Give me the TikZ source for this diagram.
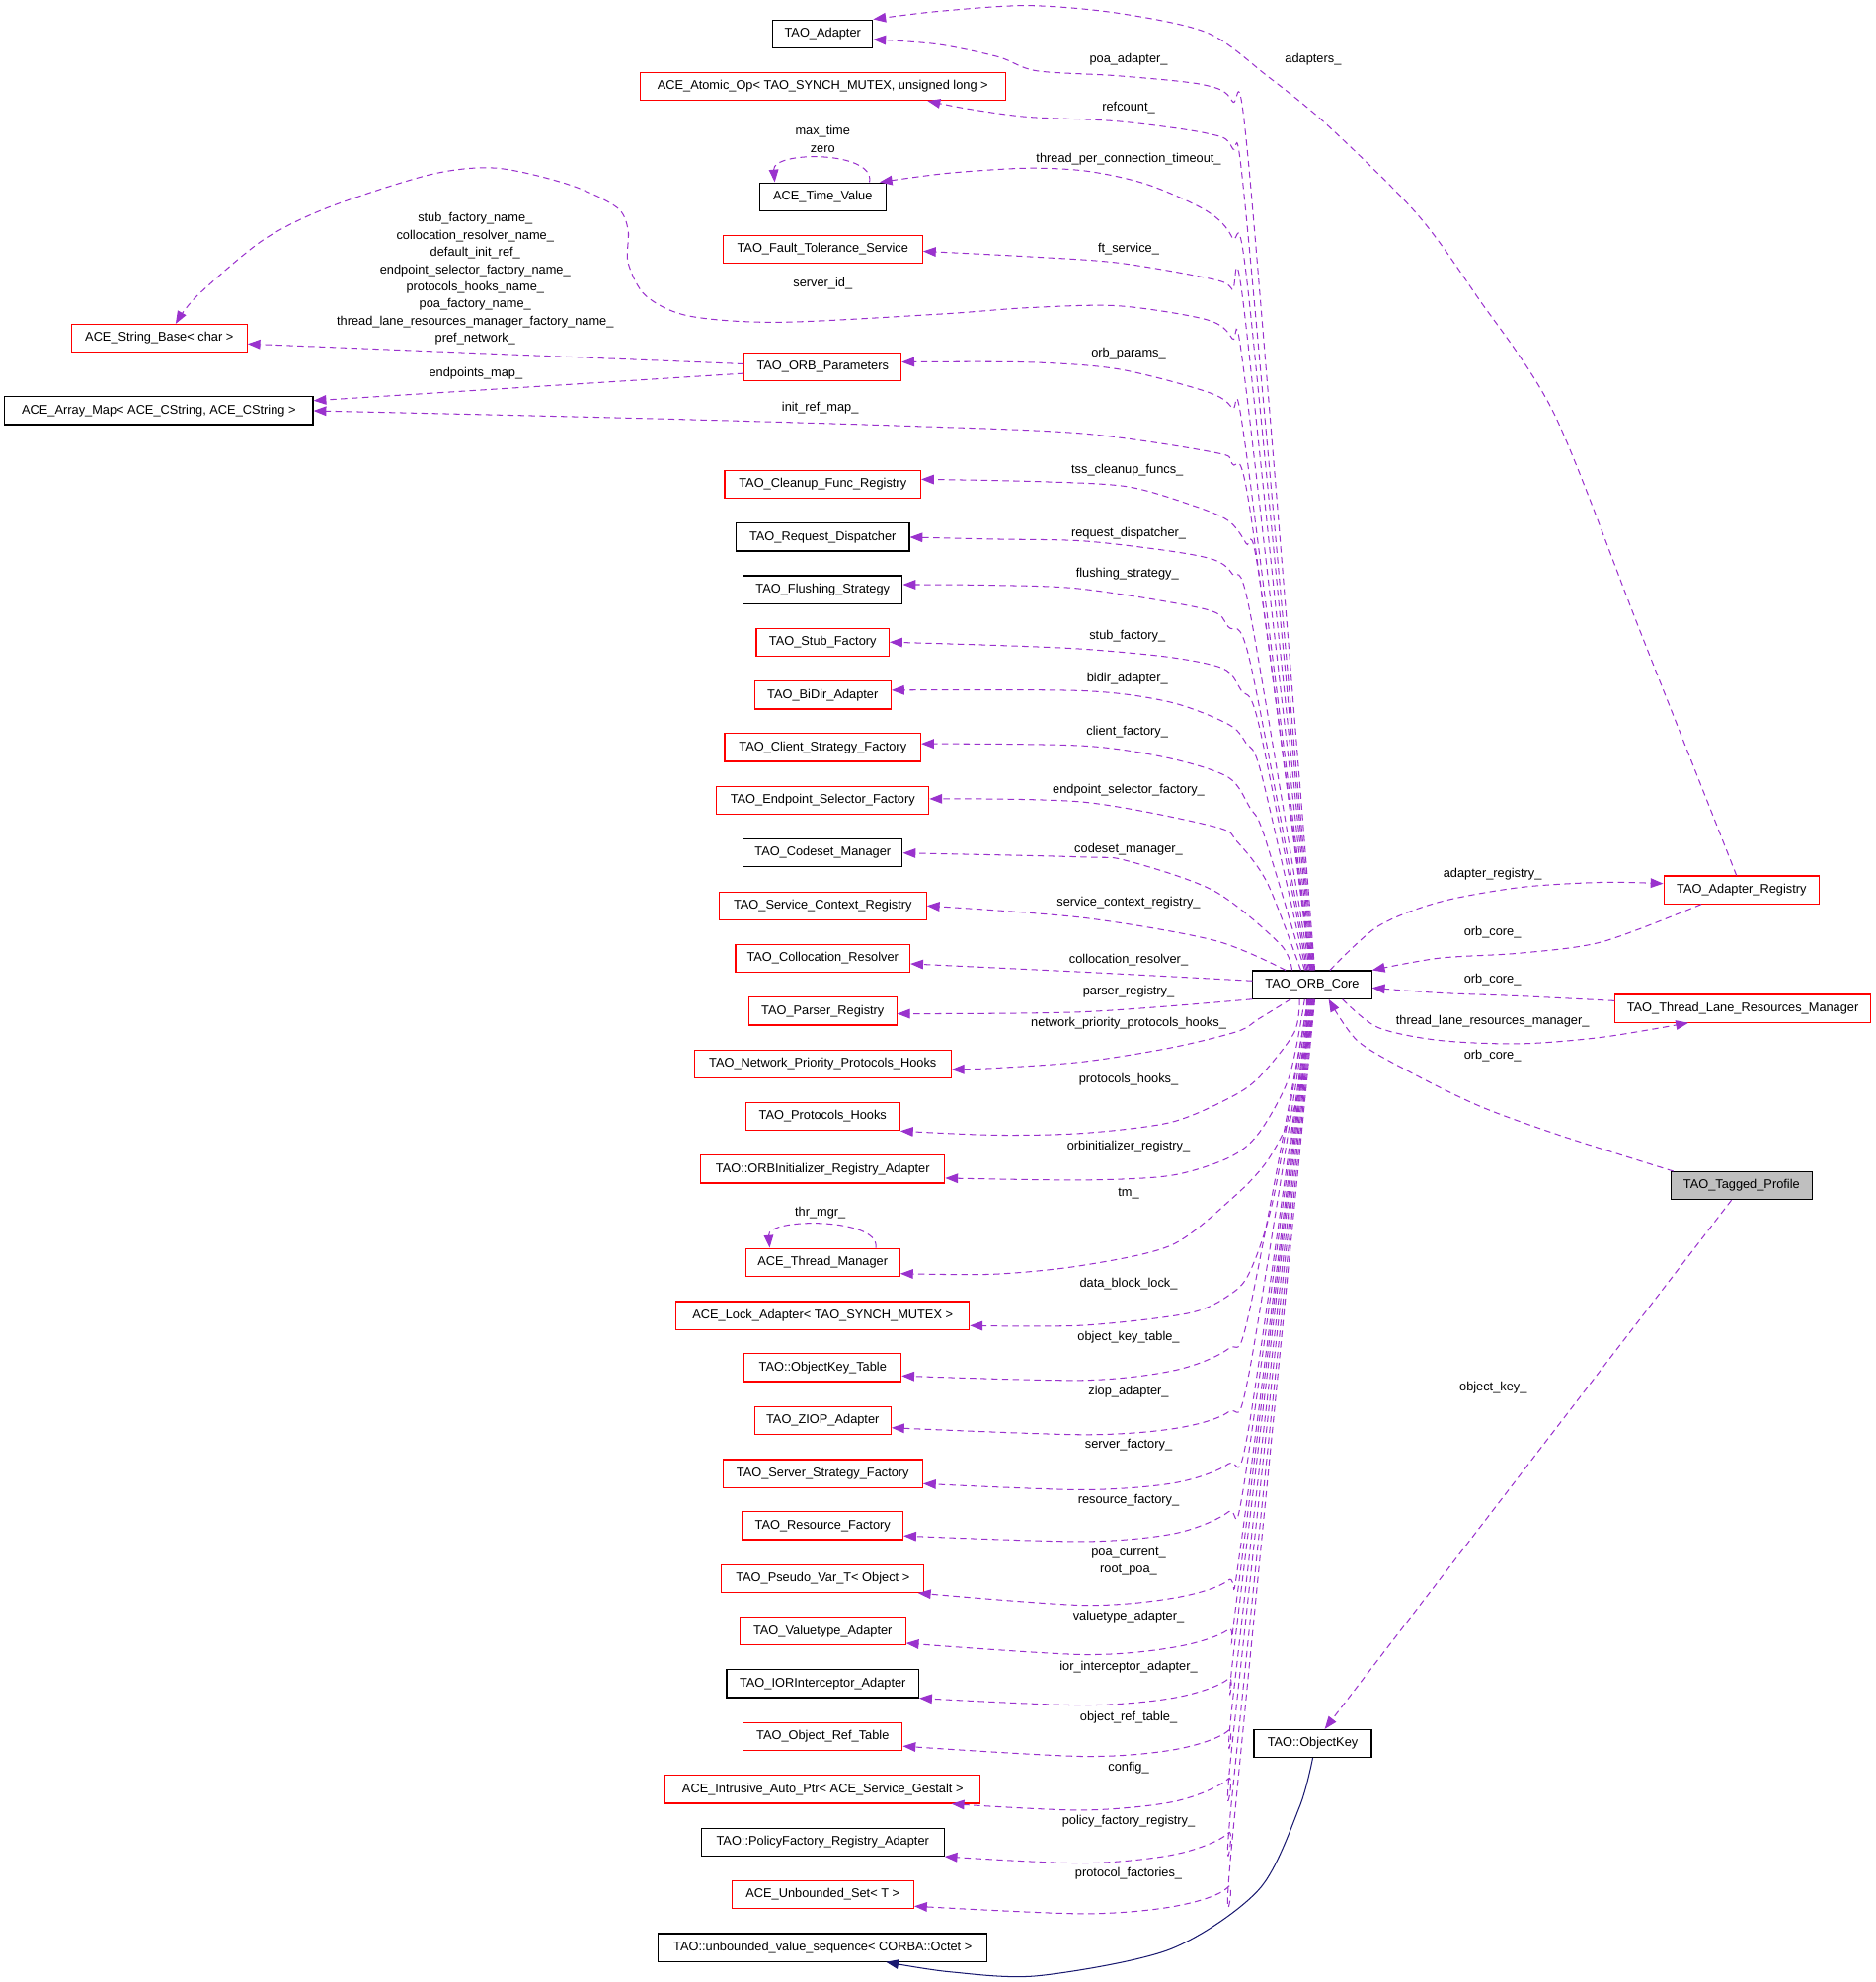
\documentclass[tikz,border=0pt]{standalone}
\usepackage{fontspec}
\setmainfont{Liberation Sans}
\usetikzlibrary{arrows.meta}
\definecolor{memberpurple}{HTML}{9A32CD}
\definecolor{undocred}{HTML}{FF0000}
\definecolor{inheritblue}{HTML}{191970}
\definecolor{focusgrey}{HTML}{BFBFBF}
\tikzset{
  classbox/.style={
    draw=black,
    fill=white,
    line width=0.9pt,
    minimum height=22pt,
    inner xsep=2pt,
    inner ysep=0pt,
    text height=7.5pt,
    text depth=2.5pt,
    font=\fontsize{10}{12}\selectfont
  },
  redbox/.style={classbox, draw=undocred},
  focusbox/.style={classbox, fill=focusgrey},
  member/.style={
    draw=memberpurple,
    line width=0.8pt,
    dash pattern=on 5pt off 3.5pt,
    -{Triangle[length=10pt,width=7.5pt]}
  },
  inherit/.style={
    draw=inheritblue,
    line width=0.8pt,
    -{Triangle[length=10pt,width=7.5pt]}
  },
  edgelabel/.style={
    inner sep=0pt,
    text height=7.5pt,
    text depth=2.5pt,
    font=\fontsize{10}{12}\selectfont
  }
}
\begin{document}
\begin{tikzpicture}[x=1pt,y=-1pt]
\fill[white] (0,0) rectangle (1484,1568);
\useasboundingbox (0,0) rectangle (1484,1568);

% member classes, middle column
\node[classbox, minimum width=79pt] (adapter) at (651,26.7) {TAO\_Adapter};
\node[redbox, minimum width=289pt] (atomicop) at (651,68.4) {ACE\_Atomic\_Op< TAO\_SYNCH\_MUTEX, unsigned long >};
\node[classbox, minimum width=100pt] (timeval) at (651,155.6) {ACE\_Time\_Value};
\node[redbox, minimum width=158pt] (ftserv) at (651,197.3) {TAO\_Fault\_Tolerance\_Service};
\node[redbox, minimum width=124pt] (orbparams) at (651,290.4) {TAO\_ORB\_Parameters};
\node[redbox, minimum width=155pt] (cleanup) at (651,383.2) {TAO\_Cleanup\_Func\_Registry};
\node[classbox, minimum width=137pt] (reqdisp) at (651,425) {TAO\_Request\_Dispatcher};
\node[classbox, minimum width=126pt] (flushing) at (651,466.5) {TAO\_Flushing\_Strategy};
\node[redbox, minimum width=105pt] (stubfac) at (651,508) {TAO\_Stub\_Factory};
\node[redbox, minimum width=108pt] (bidir) at (651,550) {TAO\_BiDir\_Adapter};
\node[redbox, minimum width=155pt] (clientfac) at (651,591.4) {TAO\_Client\_Strategy\_Factory};
\node[redbox, minimum width=168pt] (endpointsel) at (651,633) {TAO\_Endpoint\_Selector\_Factory};
\node[classbox, minimum width=126pt] (codeset) at (651,674.8) {TAO\_Codeset\_Manager};
\node[redbox, minimum width=164pt] (svcctx) at (651,716.6) {TAO\_Service\_Context\_Registry};
\node[redbox, minimum width=138pt] (colloc) at (651,758) {TAO\_Collocation\_Resolver};
\node[redbox, minimum width=117pt] (parser) at (651,800) {TAO\_Parser\_Registry};
\node[redbox, minimum width=203pt] (netprio) at (651,841.6) {TAO\_Network\_Priority\_Protocols\_Hooks};
\node[redbox, minimum width=122pt] (prothooks) at (651,883.3) {TAO\_Protocols\_Hooks};
\node[redbox, minimum width=193pt] (orbinit) at (651,925) {TAO::ORBInitializer\_Registry\_Adapter};
\node[redbox, minimum width=122pt] (thrmgr) at (651,998.6) {ACE\_Thread\_Manager};
\node[redbox, minimum width=232pt] (lockad) at (651,1040.7) {ACE\_Lock\_Adapter< TAO\_SYNCH\_MUTEX >};
\node[redbox, minimum width=124pt] (okeytable) at (651,1082) {TAO::ObjectKey\_Table};
\node[redbox, minimum width=108pt] (ziop) at (651,1124) {TAO\_ZIOP\_Adapter};
\node[redbox, minimum width=158pt] (serverfac) at (651,1165.7) {TAO\_Server\_Strategy\_Factory};
\node[redbox, minimum width=127pt] (resfac) at (651,1207) {TAO\_Resource\_Factory};
\node[redbox, minimum width=160pt] (pseudovar) at (651,1248.8) {TAO\_Pseudo\_Var\_T< Object >};
\node[redbox, minimum width=131pt] (valuetype) at (651,1290.5) {TAO\_Valuetype\_Adapter};
\node[classbox, minimum width=152pt] (iorint) at (651,1332) {TAO\_IORInterceptor\_Adapter};
\node[redbox, minimum width=126pt] (objref) at (651,1373.9) {TAO\_Object\_Ref\_Table};
\node[redbox, minimum width=249pt] (intrusive) at (651,1415.6) {ACE\_Intrusive\_Auto\_Ptr< ACE\_Service\_Gestalt >};
\node[classbox, minimum width=192pt] (polfac) at (651,1457.3) {TAO::PolicyFactory\_Registry\_Adapter};
\node[redbox, minimum width=144pt] (unbset) at (651,1499) {ACE\_Unbounded\_Set< T >};
\node[classbox, minimum width=260pt] (octetseq) at (651,1540.7) {TAO::unbounded\_value\_sequence< CORBA::Octet >};

% left and right columns
\node[redbox, minimum width=139pt] (strbase) at (126,267.6) {ACE\_String\_Base< char >};
\node[classbox, minimum width=244pt] (arraymap) at (125.7,325) {ACE\_Array\_Map< ACE\_CString, ACE\_CString >};
\node[classbox, minimum width=94pt] (core) at (1038.3,779) {TAO\_ORB\_Core};
\node[classbox, minimum width=93pt] (objkey) at (1038.7,1379.3) {TAO::ObjectKey};
\node[redbox, minimum width=123pt] (adreg) at (1378,704) {TAO\_Adapter\_Registry};
\node[redbox, minimum width=202pt] (tlrm) at (1379,797.7) {TAO\_Thread\_Lane\_Resources\_Manager};
\node[focusbox, minimum width=112pt] (tagged) at (1378,938) {TAO\_Tagged\_Profile};

% upper members of the ORB core
\draw[member] plot[smooth] coordinates {([xshift=2pt]core.north) (988,130) (975,80) (952,67) (885,60) (820,56) (790,45) (742,35) ([yshift=-4.5pt]adapter.east)};
\draw[member] plot[smooth] coordinates {([xshift=1.5pt]core.north) (986,170) (975,117) (955,105.5) (885,96) (813,92.5) (765,86) ([xshift=83pt]atomicop.south)};
\draw[member] plot[smooth] coordinates {([xshift=1pt]core.north) (988,234) (975,188) (955,167) (908,146) (861,135.5) (813,133) (750,137) ([xshift=45pt]timeval.north)};
\draw[member] plot[smooth] coordinates {([xshift=0.5pt]core.north) (985,250) (975,229) (960,221) (885,208) (813,203) ([yshift=-1.5pt]ftserv.east)};
\draw[member] plot[smooth] coordinates {(core.north) (985,300) (975,268) (955,253) (885,242) (813,243.5) (744,248.5) (616,255) (545,250) (511,234) (497,208) (497,182) (488,164) (450,146) (393,133) (341,138) (260,164) (208,190) (156,234) ([xshift=13pt]strbase.north)};
\draw[member] plot[smooth] coordinates {([xshift=-0.5pt]core.north) (985,350) (975,323) (955,310) (885,292) (813,286.5) ([yshift=4pt]orbparams.east)};
\draw[member] plot[smooth] coordinates {([xshift=-1pt]core.north) (989,403) (975,367) (961,358) (857,343) (717,337) (508,331) (arraymap.east)};
\draw[member] plot[smooth] coordinates {([xshift=-1.5pt]core.north) (996,454) (986,430) (972,412) (944,400) (892,385) (822,381) ([yshift=4pt]cleanup.east)};
\draw[member] plot[smooth] coordinates {([xshift=-2pt]core.north) (989,484) (975,454) (961,443) (926,436) (857,428) (787,426.5) (reqdisp.east)};
\draw[member] plot[smooth] coordinates {([xshift=-3pt]core.north) (989,523) (972,496) (954,482) (857,466) (787,463) ([yshift=4pt]flushing.east)};
\draw[member] plot[smooth] coordinates {([xshift=-4pt]core.north) (996,573) (982,546) (968,529) (926,520) (857,513.5) (787,510.5) (stubfac.east)};
\draw[member] plot[smooth] coordinates {([xshift=-5pt]core.north) (998,612) (986,588) (972,573) (926,555.5) (857,546.5) ([yshift=4pt]bidir.east)};
\draw[member] plot[smooth] coordinates {([xshift=-6pt]core.north) (1000,660) (989,639) (972,615) (926,600) (857,590) ([yshift=3pt]clientfac.east)};
\draw[member] plot[smooth] coordinates {([xshift=-9pt]core.north) (1003,699) (979,666) (961,654) (857,634.5) ([yshift=1pt]endpointsel.east)};
\draw[member] plot[smooth] coordinates {([xshift=-16pt]core.north) (1013,747) (961,705) (892,681) (857,678) (codeset.east)};
\draw[member] plot[smooth] coordinates {([xshift=-21pt]core.north) (961,744) (857,726) (svcctx.east)};
\draw[member] plot[smooth] coordinates {([yshift=3pt]core.west) (857,769) ([yshift=-4.5pt]colloc.east)};
\draw[member] plot[smooth] coordinates {(core.south west) (857,800.5) ([yshift=-2pt]parser.east)};

% lower members of the ORB core
\draw[member] plot[smooth] coordinates {([xshift=-17pt]core.south) (996,806) (979,816) (926,829) (857,840) (787,845) ([yshift=-4.5pt]netprio.east)};
\draw[member] plot[smooth] coordinates {([xshift=-10pt]core.south) (1024,817) (996,852.5) (972,869) (926,888) (857,896.5) (787,898) (prothooks.south east)};
\draw[member] plot[smooth] coordinates {([xshift=-6pt]core.south) (1020,852) (996,896.5) (972,916) (926,930) (857,933.5) ([yshift=-7pt]orbinit.east)};
\draw[member] plot[smooth] coordinates {([xshift=-4.5pt]core.south) (1033,836) (1024,877) (1003,918) (975,948) (927,985) (857,1001) (787,1008) ([yshift=-9pt]thrmgr.east)};
\draw[member] plot[smooth] coordinates {([xshift=-3.5pt]core.south) (1008,946) (989,1006) (972,1025) (940,1039) (857,1048.5) ([yshift=-8pt]lockad.east)};
\draw[member] plot[smooth] coordinates {([xshift=-3pt]core.south) (988,1040) (972,1067) (930,1084) (857,1092) ([yshift=-6.5pt]okeytable.east)};
\draw[member] plot[smooth] coordinates {([xshift=-2.5pt]core.south) (988,1088) (972,1117) (930,1130) (857,1135) ([yshift=-5.5pt]ziop.east)};
\draw[member] plot[smooth] coordinates {([xshift=-2pt]core.south) (988,1130) (972,1158) (930,1173) (857,1178.5) ([yshift=-8pt]serverfac.east)};
\draw[member] plot[smooth] coordinates {([xshift=-1.5pt]core.south) (985,1170) (972,1196) (930,1213) (857,1219.5) ([yshift=-8pt]resfac.east)};
\draw[member] plot[smooth] coordinates {([xshift=-1pt]core.south) (982,1221) (972,1250) (930,1264) (857,1270) ([xshift=-5pt]pseudovar.south east)};
\draw[member] plot[smooth] coordinates {([xshift=-0.5pt]core.south) (979,1262) (972,1289) (930,1303) (857,1309) ([yshift=-9.5pt]valuetype.east)};
\draw[member] plot[smooth] coordinates {(core.south) (977,1300) (972,1328) (930,1343) (857,1349) (iorint.south east)};
\draw[member] plot[smooth] coordinates {([xshift=0.5pt]core.south) (976,1340) (972,1369) (930,1384) (857,1389.5) ([yshift=-7.5pt]objref.east)};
\draw[member] plot[smooth] coordinates {([xshift=1pt]core.south) (975,1380) (972,1407) (930,1425) (857,1432) ([xshift=-23pt]intrusive.south east)};
\draw[member] plot[smooth] coordinates {([xshift=1.5pt]core.south) (975,1420) (972,1450) (930,1467) (857,1474) (polfac.south east)};
\draw[member] plot[smooth] coordinates {([xshift=2pt]core.south) (975,1456) (972,1492.5) (930,1508) (857,1514) ([yshift=-9pt]unbset.east)};

% self references
\draw[member] ([xshift=37pt]timeval.north) .. controls ([xshift=42pt,yshift=25pt]timeval.north) and ([xshift=-40pt,yshift=25pt]timeval.north) .. ([xshift=-38pt]timeval.north);
\draw[member] ([xshift=42pt]thrmgr.north) .. controls ([xshift=46pt,yshift=24pt]thrmgr.north) and ([xshift=-44pt,yshift=24pt]thrmgr.north) .. ([xshift=-42pt]thrmgr.north);

% ORB parameters
\draw[member] ([yshift=2.5pt]orbparams.west) -- ([yshift=-4.5pt]strbase.east);
\draw[member] ([yshift=-5pt]orbparams.west) -- ([yshift=8pt]arraymap.east);

% right side
\draw[member] plot[smooth] coordinates {([xshift=14pt]core.north) (1090,733) (1138.6,713.7) (1203,702) (1268,698) ([yshift=5pt]adreg.west)};
\draw[member] plot[smooth] coordinates {([xshift=-32pt]adreg.south) (1268,745) (1203,754) (1138.6,758) (core.north east)};
\draw[member] plot[smooth] coordinates {([yshift=6pt]tlrm.west) (1203,788) (1138.6,785.5) ([yshift=-2.5pt]core.east)};
\draw[member] plot[smooth] coordinates {([xshift=24pt]core.south) (1090,812.7) (1138.6,823) (1203,825.7) (1268,820.5) ([xshift=-43pt]tlrm.south)};
\draw[member] plot[smooth] coordinates {([xshift=2.5pt]tagged.north west) (1235.5,898.6) (1170.6,875) (1112.6,846.5) (1073.7,823) ([xshift=13pt]core.south)};
\draw[member] ([xshift=-8pt]tagged.south) -- ([xshift=9.5pt]objkey.north);
\draw[member] plot[smooth] coordinates {([xshift=-4pt]adreg.north) (1298,500) (1230,328) (1168.6,234.4) (1121,169) (1050.3,99) (1002.6,60) (955.5,26) (884.6,10.4) (813.5,4.4) (742,9) (adapter.north east)};
\draw[inherit] plot[smooth] coordinates {(objkey.south) (1028,1430) (996,1495) (926,1542) (822,1563) (752,1560) ([xshift=50pt]octetseq.south)};

% edge labels
\node[edgelabel] (l-poa) at (893,47.5) {poa\_adapter\_};
\node[edgelabel] (l-adapters) at (1039,47) {adapters\_};
\node[edgelabel] (l-refcount) at (893,85.2) {refcount\_};
\node[edgelabel] (l-maxtime) at (651,104.2) {max\_time};
\node[edgelabel] (l-zero) at (651,118.5) {zero};
\node[edgelabel] (l-tpct) at (893,125.8) {thread\_per\_connection\_timeout\_};
\node[edgelabel] (l-ft) at (893,197.5) {ft\_service\_};
\node[edgelabel] (l-serverid) at (651,224.5) {server\_id\_};
\foreach \txt [count=\k] in {stub\_factory\_name\_, collocation\_resolver\_name\_, default\_init\_ref\_, endpoint\_selector\_factory\_name\_, protocols\_hooks\_name\_, poa\_factory\_name\_, thread\_lane\_resources\_manager\_factory\_name\_, pref\_network\_}
  \node[edgelabel] (l-names-\k) at (376,{159.6+13.6*\k}) {\txt};
\node[edgelabel] (l-endpoints) at (376.5,295.6) {endpoints\_map\_};
\node[edgelabel] (l-orbparams) at (893,280) {orb\_params\_};
\node[edgelabel] (l-initref) at (649,323) {init\_ref\_map\_};
\node[edgelabel] (l-tss) at (892,372.4) {tss\_cleanup\_funcs\_};
\node[edgelabel] (l-reqdisp) at (893,421.8) {request\_dispatcher\_};
\node[edgelabel] (l-flush) at (892,454) {flushing\_strategy\_};
\node[edgelabel] (l-stub) at (892,503) {stub\_factory\_};
\node[edgelabel] (l-bidir) at (892,537) {bidir\_adapter\_};
\node[edgelabel] (l-client) at (892,579) {client\_factory\_};
\node[edgelabel] (l-endsel) at (893,625) {endpoint\_selector\_factory\_};
\node[edgelabel] (l-codeset) at (893,672) {codeset\_manager\_};
\node[edgelabel] (l-svcctx) at (893,714) {service\_context\_registry\_};
\node[edgelabel] (l-colloc) at (893,759.5) {collocation\_resolver\_};
\node[edgelabel] (l-parser) at (893,785) {parser\_registry\_};
\node[edgelabel] (l-netprio) at (893,810) {network\_priority\_protocols\_hooks\_};
\node[edgelabel] (l-prothooks) at (893,854) {protocols\_hooks\_};
\node[edgelabel] (l-orbinit) at (893,907) {orbinitializer\_registry\_};
\node[edgelabel] (l-tm) at (893,944) {tm\_};
\node[edgelabel] (l-thrmgr) at (649,960) {thr\_mgr\_};
\node[edgelabel] (l-lock) at (893,1016) {data\_block\_lock\_};
\node[edgelabel] (l-okeytable) at (893,1058) {object\_key\_table\_};
\node[edgelabel] (l-ziop) at (893,1101) {ziop\_adapter\_};
\node[edgelabel] (l-serverfac) at (893,1143) {server\_factory\_};
\node[edgelabel] (l-resfac) at (893,1187) {resource\_factory\_};
\node[edgelabel] (l-poacur) at (893,1228) {poa\_current\_};
\node[edgelabel] (l-rootpoa) at (893,1242) {root\_poa\_};
\node[edgelabel] (l-valuetype) at (893,1279) {valuetype\_adapter\_};
\node[edgelabel] (l-iorint) at (893,1319) {ior\_interceptor\_adapter\_};
\node[edgelabel] (l-objref) at (893,1359) {object\_ref\_table\_};
\node[edgelabel] (l-config) at (893,1399) {config\_};
\node[edgelabel] (l-polfac) at (893,1441) {policy\_factory\_registry\_};
\node[edgelabel] (l-protfac) at (893,1482) {protocol\_factories\_};
\node[edgelabel] (l-adreg) at (1181,691.6) {adapter\_registry\_};
\node[edgelabel] (l-core1) at (1181,737.9) {orb\_core\_};
\node[edgelabel] (l-core2) at (1181,775.4) {orb\_core\_};
\node[edgelabel] (l-tlrm) at (1181,807.9) {thread\_lane\_resources\_manager\_};
\node[edgelabel] (l-core3) at (1181,835.4) {orb\_core\_};
\node[edgelabel] (l-objkey) at (1181.5,1098.2) {object\_key\_};
\end{tikzpicture}
\end{document}
